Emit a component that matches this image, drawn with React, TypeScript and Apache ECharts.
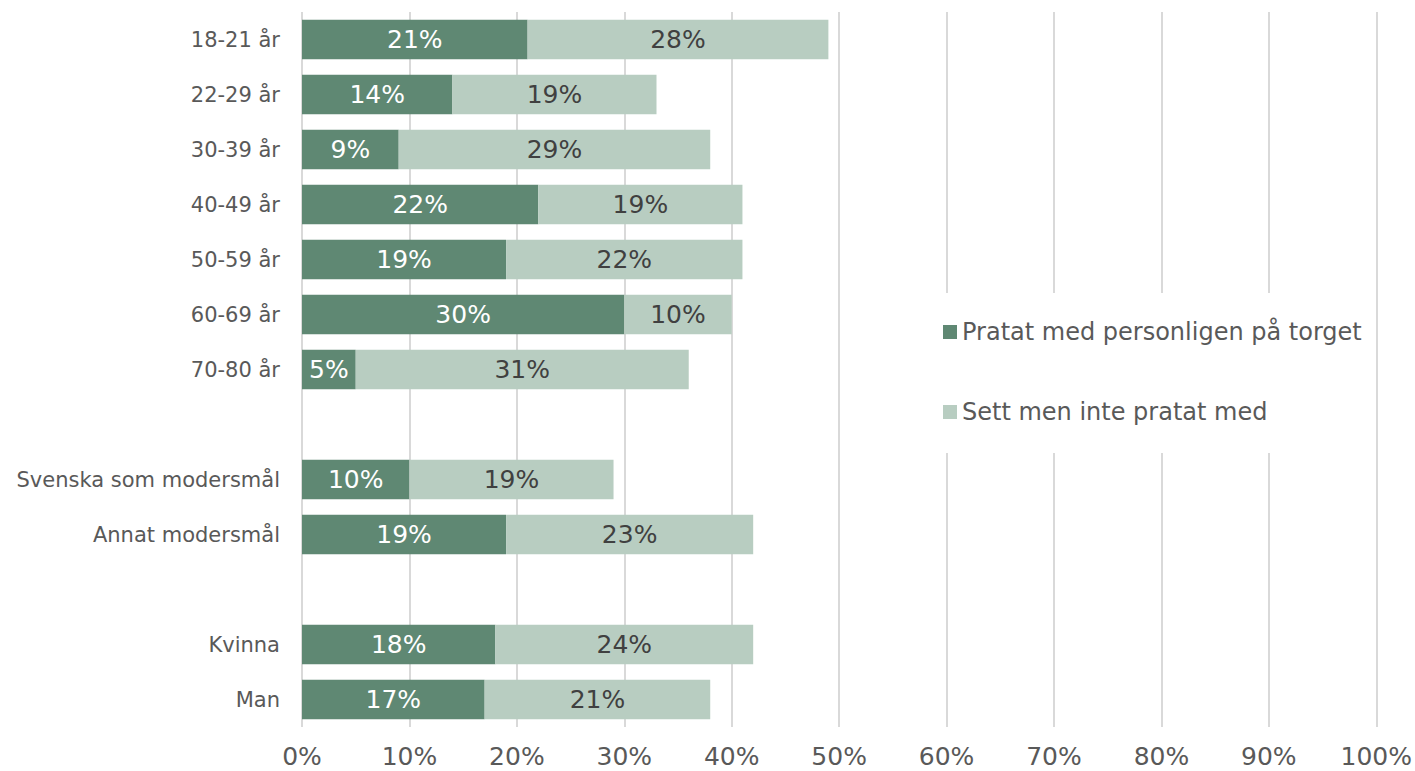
import React, { useEffect, useRef } from "react";
import * as echarts from "echarts";

const categories = [
  "18-21 år",
  "22-29 år",
  "30-39 år",
  "40-49 år",
  "50-59 år",
  "60-69 år",
  "70-80 år",
  " ",
  "Svenska som modersmål",
  "Annat modersmål",
  "  ",
  "Kvinna",
  "Man",
];
const pratat = [21, 14, 9, 22, 19, 30, 5, null, 10, 19, null, 18, 17];
const sett = [28, 19, 29, 19, 22, 10, 31, null, 19, 23, null, 24, 21];
const seriesNames = ["Pratat med personligen på torget", "Sett men inte pratat med"];
const FONT = "DejaVu Sans";

export default function App() {
  const ref = useRef<HTMLDivElement>(null);
  useEffect(() => {
    if (!ref.current) return;
    const chart = echarts.init(ref.current, undefined, { renderer: "svg" });
    const toData = (arr: (number | null)[]) => arr.map((v) => (v === null ? "-" : v));
    chart.setOption({
      animation: false,
      grid: { left: 302, right: 37, top: 12, bottom: 44, containLabel: false },
      legend: {
        orient: "vertical",
        left: 940,
        top: 293,
        padding: [25, 8, 27, 3],
        backgroundColor: "#ffffff",
        itemWidth: 14,
        itemHeight: 14,
        itemGap: 52,
        icon: "rect",
        textStyle: { fontFamily: FONT, fontSize: 24, color: "#595959", lineHeight: 28 },
        data: seriesNames,
      },
      xAxis: {
        type: "value",
        min: 0,
        max: 100,
        interval: 10,
        axisLine: { show: false },
        axisTick: { show: false },
        splitLine: { show: true, lineStyle: { color: "#d9d9d9", width: 2 } },
        axisLabel: { formatter: "{value}%", fontFamily: FONT, fontSize: 25, color: "#595959", margin: 17 },
      },
      yAxis: {
        type: "category",
        inverse: true,
        data: categories,
        axisLine: { show: false },
        axisTick: { show: false },
        axisLabel: { fontFamily: FONT, fontSize: 21, color: "#595959", margin: 22 },
      },
      series: [
        {
          name: seriesNames[0],
          type: "bar",
          stack: "s",
          barCategoryGap: "28.5%",
          data: toData(pratat),
          itemStyle: { color: "#5f8873" },
          label: {
            show: true,
            position: "inside",
            formatter: "{c}%",
            fontFamily: FONT,
            fontSize: 25,
            color: "#ffffff",
          },
        },
        {
          name: seriesNames[1],
          type: "bar",
          stack: "s",
          barCategoryGap: "28.5%",
          data: toData(sett),
          itemStyle: { color: "#b8cdc1" },
          label: {
            show: true,
            position: "inside",
            formatter: "{c}%",
            fontFamily: FONT,
            fontSize: 25,
            color: "#404040",
          },
        },
      ],
    });
    return () => chart.dispose();
  }, []);
  return <div ref={ref} style={{ width: 1415, height: 771, position: "absolute", left: 0, top: 0 }} />;
}
